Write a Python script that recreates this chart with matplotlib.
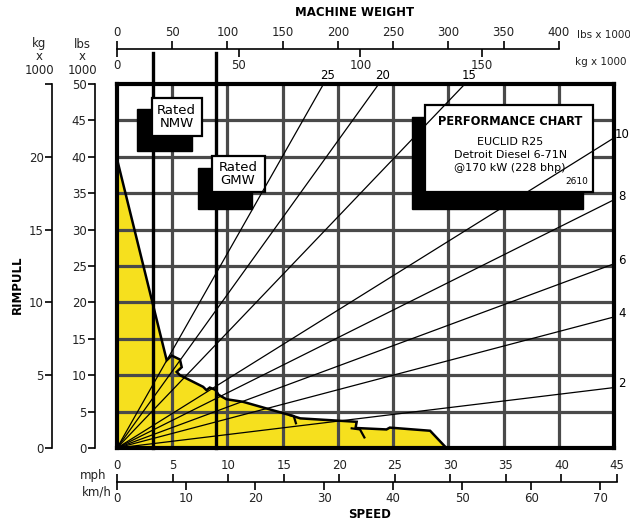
import numpy as np
import matplotlib
matplotlib.use('Agg')
from matplotlib import pyplot as plt
from matplotlib.patches import Rectangle

plt.rcParams['font.family'] = ['DejaVu Sans']

# rimpull envelope (speed in mph, rimpull in lbs x 1000)
speed_mph = [0, 4.5, 4.95, 5.7, 5.86, 5.4, 5.7, 7.8, 8.1, 8.4, 8.9, 9.2, 9.9, 11.4,
             15.7, 16.6, 21.7, 21.6, 24.4, 24.7, 28.35, 29.7]
rimpull_lbs = [39.7, 12.05, 12.7, 12.15, 11.1, 10.45, 10.0, 8.4, 7.95, 8.3, 8.0, 7.3, 6.7, 6.35,
               4.5, 4.07, 3.6, 2.75, 2.55, 2.8, 2.37, 0.2]
# gear change marks under the envelope
shift_marks = [
    ([15.7, 16.0, 16.2], [4.5, 4.4, 3.4]),
    ([21.25, 22.0, 22.4], [2.7, 2.55, 1.45]),
]

# total resistance lines from the origin, read at the chart edge
grade_top = ['25', '20', '15']
grade_top_end = [18.7, 23.7, 31.5]          # mph where the line meets 50 lbs
grade_right = ['10', '8', '6', '4', '2']
grade_right_end = [42.6, 34.1, 25.3, 18.0, 8.3]  # lbs where the line meets 45 mph

nmw_lbs = 32.5   # machine weight, lbs x 1000
gmw_lbs = 90.0

mph_ticks = [0, 5, 10, 15, 20, 25, 30, 35, 40, 45]
kmh_ticks = [0, 10, 20, 30, 40, 50, 60, 70]
lbs_weight_ticks = [0, 50, 100, 150, 200, 250, 300, 350, 400]
kg_weight_ticks = [0, 50, 100, 150]
rimpull_lbs_ticks = [0, 5, 10, 15, 20, 25, 30, 35, 40, 45, 50]
rimpull_kg_ticks = [0, 5, 10, 15, 20]

W, H = 630, 524
fig = plt.figure(figsize=(W / 100, H / 100), dpi=100)

def fx(px):
    return px / W

def fy(py):
    return 1 - py / H

L, R, T, B = 117, 614, 84, 448
ax = fig.add_axes([fx(L), fy(B), fx(R - L), fy(T) - fy(B)])
ax.set_xlim(0, 45)
ax.set_ylim(0, 50)
ax.set_xticks([])
ax.set_yticks([])
for s in ax.spines.values():
    s.set_linewidth(3)
    s.set_zorder(10)

ax.fill(speed_mph + [0], rimpull_lbs + [0], color='#F6E01E', zorder=1, lw=0)

for v in mph_ticks[1:-1]:
    ax.axvline(v, color='#4a4a4a', lw=2.3, zorder=2)
for v in rimpull_lbs_ticks[1:-1]:
    ax.axhline(v, color='#4a4a4a', lw=2.3, zorder=2)

# rated weight lines: 10 lbs x 1000 of weight per mph on the shared scale
for wt in (nmw_lbs, gmw_lbs):
    ax.plot([wt / 10, wt / 10], [0, 54.2], color='black', lw=2.4, zorder=3, clip_on=False)

def boxed(x0, y0, x1, y1, sx0, sy0, sx1, sy1):
    ax.add_patch(Rectangle((sx0, sy0), sx1 - sx0, sy1 - sy0, color='black', zorder=4))
    ax.add_patch(Rectangle((x0, y0), x1 - x0, y1 - y0, facecolor='white',
                           edgecolor='black', lw=1.6, zorder=4.5))

boxed(3.13, 42.9, 7.66, 48.1, 1.78, 40.8, 6.76, 46.6)
ax.text(5.4, 45.5, 'Rated\nNMW', ha='center', va='center', fontsize=9.5,
        linespacing=1.0, zorder=6)
boxed(8.58, 35.1, 13.4, 40.1, 7.36, 32.8, 12.2, 38.5)
ax.text(10.96, 37.6, 'Rated\nGMW', ha='center', va='center', fontsize=9.5,
        linespacing=1.0, zorder=6)
boxed(27.9, 35.1, 43.1, 47.1, 26.7, 32.8, 42.2, 45.4)
ax.text(35.6, 44.8, 'PERFORMANCE CHART', ha='center', va='center', fontsize=8.3,
        fontweight='bold', zorder=6)
ax.text(35.6, 42.1, 'EUCLID R25', ha='center', va='center', fontsize=8, zorder=6)
ax.text(35.6, 40.3, 'Detroit Diesel 6-71N', ha='center', va='center', fontsize=8, zorder=6)
ax.text(35.6, 38.5, '@170 kW (228 bhp)', ha='center', va='center', fontsize=8, zorder=6)
ax.text(41.6, 36.6, '2610', ha='center', va='center', fontsize=6.5, zorder=6)

for lab, xe in zip(grade_top, grade_top_end):
    ax.plot([0, xe], [0, 50], color='black', lw=0.9, zorder=7)
    ax.text(xe + 0.35, 51.2, lab, ha='center', va='center', fontsize=8.5, clip_on=False)
for lab, ye in zip(grade_right, grade_right_end):
    ax.plot([0, 45], [0, ye], color='black', lw=0.9, zorder=7)
    ax.text(45.75, ye + 0.5, lab, ha='center', va='center', fontsize=8.5, clip_on=False)

ax.plot(speed_mph, rimpull_lbs, color='black', lw=1.8, zorder=8, solid_joinstyle='miter')
for xs, ys in shift_marks:
    ax.plot(xs, ys, color='black', lw=1.6, zorder=8)

# left rimpull scales
def vscale(px, lim, ticks, labels=None):
    a = fig.add_axes([fx(px), fy(B), 0.0001, fy(T) - fy(B)])
    a.set_ylim(0, lim)
    a.set_xticks([])
    for k in ('right', 'top', 'bottom'):
        a.spines[k].set_visible(False)
    a.spines['left'].set_linewidth(1.2)
    a.set_yticks(ticks)
    if labels is not None:
        a.set_yticklabels(labels)
    a.tick_params(axis='y', length=5, width=1.2, pad=1, labelsize=8.5, labelcolor='#222222')
    return a

vscale(95, 50, rimpull_lbs_ticks)
vscale(52, 25, rimpull_kg_ticks + [25], [str(t) for t in rimpull_kg_ticks] + [''])
fig.text(fx(39), fy(57), 'kg\nx\n1000', ha='center', va='center', fontsize=8.5,
         linespacing=1.0, color='#222222')
fig.text(fx(82), fy(57), 'lbs\nx\n1000', ha='center', va='center', fontsize=8.5,
         linespacing=1.0, color='#222222')
fig.text(fx(17), fy(285), 'RIMPULL', rotation=90, ha='center', va='center',
         fontsize=8.5, fontweight='bold')

# horizontal double scales
def hscale(py, left, right, lim, ticks, side, bound=None):
    a = fig.add_axes([fx(left), fy(py), fx(right - left), 0.0001])
    a.set_xlim(0, lim)
    a.set_yticks([])
    for k in ('left', 'right', 'top', 'bottom'):
        a.spines[k].set_visible(False)
    a.set_xticks(ticks)
    a.xaxis.set_ticks_position(side)
    a.xaxis.set_label_position(side)
    a.tick_params(axis='x', length=6, width=1.2, pad=1, labelsize=8.5, labelcolor='#222222')
    if bound is not None:
        a.spines['bottom'].set_visible(True)
        a.spines['bottom'].set_linewidth(1.2)
        a.spines['bottom'].set_bounds(0, bound)
    return a

# machine weight: 400 lbs x 1000 at 40 mph position
hscale(49, L, R, 450, lbs_weight_ticks, 'top', bound=400)
hscale(49, L, R, 450 / 2.2046, kg_weight_ticks, 'bottom')
fig.text(fx(604), fy(35), 'lbs x 1000', ha='center', va='center', fontsize=7.5, color='#222222')
fig.text(fx(601), fy(62), 'kg x 1000', ha='center', va='center', fontsize=7.5, color='#222222')
fig.text(fx(355), fy(13), 'MACHINE WEIGHT', ha='center', va='center', fontsize=8.5,
         fontweight='bold')

hscale(482, L, 617, 45, mph_ticks, 'top', bound=45)
hscale(482, L, 617, 45 * 1.609, kmh_ticks, 'bottom')
fig.text(fx(93), fy(476), 'mph', ha='center', va='center', fontsize=8.5, color='#222222')
fig.text(fx(97), fy(492), 'km/h', ha='center', va='center', fontsize=8.5, color='#222222')
fig.text(fx(370), fy(514), 'SPEED', ha='center', va='center', fontsize=8.5,
         fontweight='bold')

fig.savefig('out.png', dpi=100)
